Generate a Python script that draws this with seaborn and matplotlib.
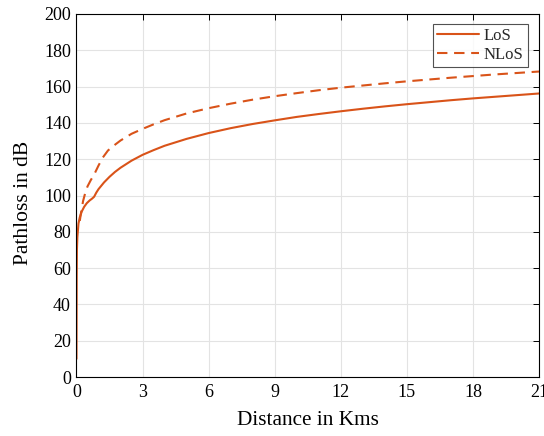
import matplotlib
matplotlib.use("Agg")
import matplotlib.pyplot as plt
import seaborn as sns
import pandas as pd

# distance (km) and path loss (dB)
los_km = [0, 0.01, 0.02, 0.04, 0.09, 0.15, 0.24, 0.35, 0.47, 0.6, 0.7, 0.8, 0.9,
          1.0, 1.25, 1.5, 1.75, 2.0, 2.5, 3, 3.5, 4, 5, 6, 7, 8, 9, 10, 11, 12,
          13, 14, 15, 16, 17, 18, 19, 20, 21]
los_db = [10, 55, 70, 77, 84.5, 88, 91.2, 93.8, 95.8, 97.3, 98.2, 99.3, 101.6,
          103.5, 107.2, 110.3, 113.0, 115.3, 119.2, 122.4, 125.0, 127.4, 131.2,
          134.4, 137.1, 139.4, 141.4, 143.3, 144.9, 146.4, 147.8, 149.1, 150.3,
          151.4, 152.5, 153.5, 154.4, 155.3, 156.2]

nlos_km = [0.15, 0.2, 0.3, 0.4, 0.5, 0.65, 0.8, 1.0, 1.2, 1.43, 1.75, 2.0, 2.5,
           3, 3.5, 4, 5, 6, 7, 8, 9, 10, 11, 12, 13, 14, 15, 16, 17, 18, 19, 20, 21]
nlos_db = [86, 90, 97, 101.5, 105, 108.5, 111.5, 116.5, 121, 124.8, 128, 130.3,
           134, 136.7, 139.2, 141.5, 145.2, 148.1, 150.6, 152.8, 154.7, 156.4,
           158, 159.4, 160.6, 161.8, 162.9, 163.9, 164.9, 165.8, 166.7, 167.5, 168.3]

x_ticks = [0, 3, 6, 9, 12, 15, 18, 21]
y_ticks = list(range(0, 201, 20))

sns.set_style("whitegrid")
plt.rcParams['font.family'] = ['Liberation Serif', 'DejaVu Serif']

los = pd.DataFrame({"d": los_km, "pl": los_db})
nlos = pd.DataFrame({"d": nlos_km, "pl": nlos_db})

fig = plt.figure(figsize=(5.44, 4.36), dpi=100)
ax = fig.add_axes([0.1406, 0.1353, 0.8502, 0.8326])

color = "#D95319"
sns.lineplot(data=los, x="d", y="pl", ax=ax, color=color, lw=1.5, label="LoS")
sns.lineplot(data=nlos, x="d", y="pl", ax=ax, color=color, lw=1.5,
             linestyle=(0, (5, 3.2)), label="NLoS")

ax.set_xlim(0, 21)
ax.set_ylim(0, 200)
ax.set_xticks(x_ticks)
ax.set_yticks(y_ticks)
ax.grid(True, color="#e3e3e3", lw=0.8)
for s in ax.spines.values():
    s.set_color("black")
    s.set_linewidth(0.8)
ax.tick_params(direction="in", length=4, width=0.7, color="black",
               labelsize=13, top=True, right=True, labelcolor="black")
ax.tick_params(axis="x", pad=5)
ax.tick_params(axis="y", pad=4)
ax.set_xlabel("Distance in Kms", fontsize=15.3, labelpad=7, color="black")
ax.set_ylabel("Pathloss in dB", fontsize=15.5, color="black")
ax.yaxis.set_label_coords(-0.094, 0.48)

leg = ax.legend(loc="upper right", bbox_to_anchor=(527.5 / 544, 1 - 24 / 436),
                bbox_transform=fig.transFigure, borderaxespad=0,
                fontsize=12, frameon=True, fancybox=False, handlelength=2.5,
                borderpad=0.25, labelspacing=0.15, handletextpad=0.3)
leg.get_frame().set_edgecolor("#262626")
leg.get_frame().set_linewidth(0.8)

fig.savefig("out.png", dpi=100)
